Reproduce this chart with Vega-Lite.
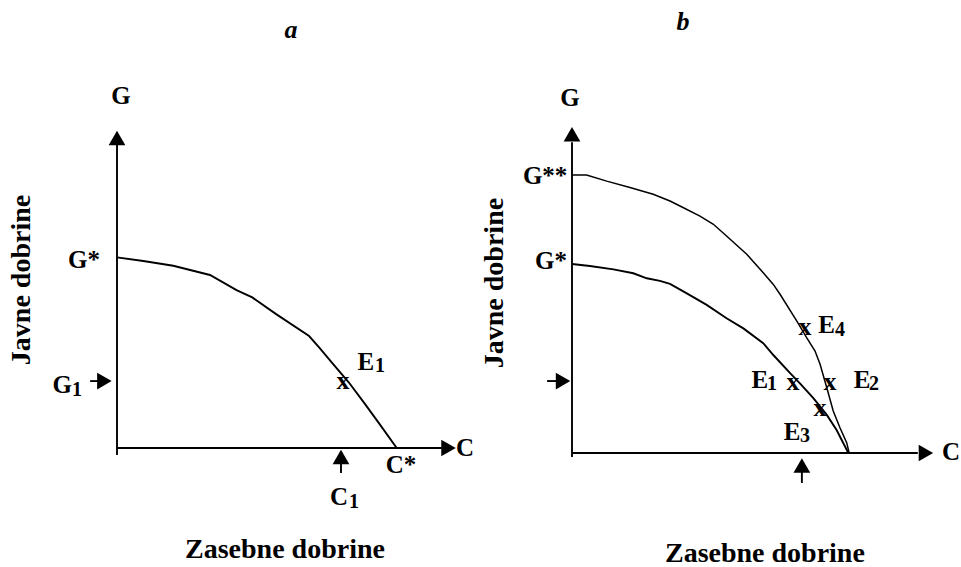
{
  "$schema": "https://vega.github.io/schema/vega-lite/v6.json",
  "padding": 0,
  "spacing": 0,
  "background": "white",
  "config": {"view": {"stroke": null}},
  "datasets": {
    "aLines": [
      {"id": "axisY", "o": 0, "x": 0, "y": -0.25},
      {"id": "axisY", "o": 1, "x": 0, "y": 11.0},
      {"id": "axisX", "o": 0, "x": 0, "y": 0},
      {"id": "axisX", "o": 1, "x": 11.6, "y": 0},
      {"id": "g1", "o": 0, "x": -0.96, "y": 2.39},
      {"id": "g1", "o": 1, "x": -0.45, "y": 2.39},
      {"id": "c1", "o": 0, "x": 8.0, "y": -0.89},
      {"id": "c1", "o": 1, "x": 8.0, "y": -0.32},
      {"id": "curve", "o": 0, "x": 0, "y": 6.81},
      {"id": "curve", "o": 1, "x": 0.94, "y": 6.68},
      {"id": "curve", "o": 2, "x": 2.01, "y": 6.51},
      {"id": "curve", "o": 3, "x": 3.32, "y": 6.18},
      {"id": "curve", "o": 4, "x": 4.27, "y": 5.64},
      {"id": "curve", "o": 5, "x": 4.83, "y": 5.38},
      {"id": "curve", "o": 6, "x": 5.67, "y": 4.79},
      {"id": "curve", "o": 7, "x": 6.86, "y": 4.0},
      {"id": "curve", "o": 8, "x": 7.21, "y": 3.6},
      {"id": "curve", "o": 9, "x": 7.69, "y": 3.03},
      {"id": "curve", "o": 10, "x": 8.29, "y": 2.33},
      {"id": "curve", "o": 11, "x": 8.88, "y": 1.54},
      {"id": "curve", "o": 12, "x": 9.36, "y": 0.88},
      {"id": "curve", "o": 13, "x": 9.99, "y": 0}
    ],
    "aHeads": [
      {"dir": "up", "x": 0, "y": 11.07},
      {"dir": "right", "x": 11.84, "y": 0},
      {"dir": "right", "x": -0.45, "y": 2.39},
      {"dir": "up", "x": 8.0, "y": -0.32}
    ],
    "aLabels": [
      {"t": "G", "x": 0.14, "y": 12.57},
      {"t": "G*", "x": -1.18, "y": 6.71},
      {"t": "G", "x": -1.96, "y": 2.25},
      {"t": "E", "x": 8.89, "y": 3.07},
      {"t": "C", "x": 12.43, "y": 0},
      {"t": "C*", "x": 10.14, "y": -0.61},
      {"t": "C", "x": 7.93, "y": -1.75}
    ],
    "aSubs": [
      {"t": "1", "x": -1.43, "y": 2.08},
      {"t": "1", "x": 9.39, "y": 2.93},
      {"t": "1", "x": 8.46, "y": -1.92}
    ],
    "aMarks": [
      {"t": "x", "x": 8.07, "y": 2.39}
    ],
    "aAxisTitles": [
      {"t": "Zasebne dobrine", "x": 6.0, "y": -3.66}
    ],
    "aVert": [
      {"t": "Javne dobrine", "x": -3.39, "y": 6.0}
    ],
    "aTitle": [
      {"t": "a", "x": 6.21, "y": 14.93}
    ],
    "bLines": [
      {"id": "axisY", "o": 0, "x": 0, "y": -0.14},
      {"id": "axisY", "o": 1, "x": 0, "y": 11.1},
      {"id": "axisX", "o": 0, "x": 0, "y": 0},
      {"id": "axisX", "o": 1, "x": 12.35, "y": 0},
      {"id": "left", "o": 0, "x": -0.89, "y": 2.57},
      {"id": "left", "o": 1, "x": -0.5, "y": 2.57},
      {"id": "bottom", "o": 0, "x": 8.21, "y": -1.07},
      {"id": "bottom", "o": 1, "x": 8.21, "y": -0.6},
      {"id": "lower", "o": 0, "x": 0, "y": 6.75},
      {"id": "lower", "o": 1, "x": 0.64, "y": 6.68},
      {"id": "lower", "o": 2, "x": 1.48, "y": 6.56},
      {"id": "lower", "o": 3, "x": 2.19, "y": 6.42},
      {"id": "lower", "o": 4, "x": 2.67, "y": 6.24},
      {"id": "lower", "o": 5, "x": 3.14, "y": 6.15},
      {"id": "lower", "o": 6, "x": 3.5, "y": 6.04},
      {"id": "lower", "o": 7, "x": 4.1, "y": 5.7},
      {"id": "lower", "o": 8, "x": 4.81, "y": 5.29},
      {"id": "lower", "o": 9, "x": 5.52, "y": 4.81},
      {"id": "lower", "o": 10, "x": 6.12, "y": 4.45},
      {"id": "lower", "o": 11, "x": 6.83, "y": 3.92},
      {"id": "lower", "o": 12, "x": 7.19, "y": 3.5},
      {"id": "lower", "o": 13, "x": 7.79, "y": 2.85},
      {"id": "lower", "o": 14, "x": 8.14, "y": 2.49},
      {"id": "lower", "o": 15, "x": 8.62, "y": 1.96},
      {"id": "lower", "o": 16, "x": 9.1, "y": 1.36},
      {"id": "lower", "o": 17, "x": 9.45, "y": 0.82},
      {"id": "lower", "o": 18, "x": 9.87, "y": 0}
    ],
    "bUpper": [
      {"id": "upper", "o": 0, "x": 0, "y": 9.93},
      {"id": "upper", "o": 1, "x": 0.52, "y": 9.93},
      {"id": "upper", "o": 2, "x": 1.24, "y": 9.71},
      {"id": "upper", "o": 3, "x": 2.07, "y": 9.48},
      {"id": "upper", "o": 4, "x": 2.9, "y": 9.24},
      {"id": "upper", "o": 5, "x": 3.5, "y": 9.0},
      {"id": "upper", "o": 6, "x": 3.98, "y": 8.76},
      {"id": "upper", "o": 7, "x": 4.57, "y": 8.46},
      {"id": "upper", "o": 8, "x": 5.05, "y": 8.17},
      {"id": "upper", "o": 9, "x": 5.52, "y": 7.75},
      {"id": "upper", "o": 10, "x": 6.24, "y": 7.1},
      {"id": "upper", "o": 11, "x": 6.83, "y": 6.44},
      {"id": "upper", "o": 12, "x": 7.19, "y": 6.02},
      {"id": "upper", "o": 13, "x": 7.43, "y": 5.67},
      {"id": "upper", "o": 14, "x": 8.03, "y": 4.71},
      {"id": "upper", "o": 15, "x": 8.38, "y": 4.12},
      {"id": "upper", "o": 16, "x": 8.68, "y": 3.64},
      {"id": "upper", "o": 17, "x": 8.86, "y": 3.17},
      {"id": "upper", "o": 18, "x": 9.1, "y": 2.33},
      {"id": "upper", "o": 19, "x": 9.33, "y": 1.5},
      {"id": "upper", "o": 20, "x": 9.57, "y": 0.9},
      {"id": "upper", "o": 21, "x": 9.81, "y": 0.37},
      {"id": "upper", "o": 22, "x": 9.9, "y": 0}
    ],
    "bHeads": [
      {"dir": "up", "x": 0, "y": 11.38},
      {"dir": "right", "x": 12.64, "y": 0},
      {"dir": "right", "x": -0.32, "y": 2.57},
      {"dir": "up", "x": 8.21, "y": -0.45}
    ],
    "bLabels": [
      {"t": "G", "x": -0.07, "y": 12.68},
      {"t": "G**", "x": -0.96, "y": 9.89},
      {"t": "G*", "x": -0.75, "y": 6.86},
      {"t": "E", "x": 9.09, "y": 4.57},
      {"t": "E", "x": 6.71, "y": 2.61},
      {"t": "E", "x": 10.36, "y": 2.61},
      {"t": "E", "x": 7.86, "y": 0.75},
      {"t": "C", "x": 13.54, "y": 0.04}
    ],
    "bSubs": [
      {"t": "4", "x": 9.57, "y": 4.4},
      {"t": "1", "x": 7.14, "y": 2.47},
      {"t": "2", "x": 10.79, "y": 2.47},
      {"t": "3", "x": 8.32, "y": 0.61}
    ],
    "bMarks": [
      {"t": "x", "x": 8.32, "y": 4.5},
      {"t": "x", "x": 7.89, "y": 2.54},
      {"t": "x", "x": 9.21, "y": 2.54},
      {"t": "x", "x": 8.86, "y": 1.61}
    ],
    "bAxisTitles": [
      {"t": "Zasebne dobrine", "x": 6.89, "y": -3.6}
    ],
    "bVert": [
      {"t": "Javne dobrine", "x": -2.75, "y": 6.07}
    ],
    "bTitle": [
      {"t": "b", "x": 3.96, "y": 15.39}
    ]
  },
  "hconcat": [
    {
      "width": 480,
      "height": 567,
      "encoding": {
        "x": {"field": "x", "type": "quantitative", "axis": null, "scale": {"domain": [-4.1786, 12.9643], "nice": false, "zero": false}},
        "y": {"field": "y", "type": "quantitative", "axis": null, "scale": {"domain": [-4.25, 16.0], "nice": false, "zero": false}}
      },
      "layer": [
        {
          "data": {"name": "aLines"},
          "mark": {"type": "line", "color": "black", "strokeWidth": 1.9, "clip": false},
          "encoding": {"detail": {"field": "id"}, "order": {"field": "o", "type": "quantitative"}}
        },
        {
          "data": {"name": "aHeads"},
          "mark": {"type": "point", "filled": true, "color": "black", "opacity": 1, "size": 280, "strokeWidth": 0},
          "encoding": {"shape": {"field": "dir", "type": "nominal", "legend": null, "scale": {"domain": ["up", "right"], "range": ["triangle-up", "triangle-right"]}}}
        },
        {
          "data": {"name": "aLabels"},
          "mark": {"type": "text", "font": "Liberation Serif", "fontWeight": "bold", "fontSize": 25, "color": "black", "align": "center", "baseline": "middle"},
          "encoding": {"text": {"field": "t"}}
        },
        {
          "data": {"name": "aSubs"},
          "mark": {"type": "text", "font": "Liberation Serif", "fontWeight": "bold", "fontSize": 20, "color": "black", "align": "center", "baseline": "middle"},
          "encoding": {"text": {"field": "t"}}
        },
        {
          "data": {"name": "aMarks"},
          "mark": {"type": "text", "font": "Liberation Serif", "fontWeight": "bold", "fontSize": 26, "color": "black", "align": "center", "baseline": "middle"},
          "encoding": {"text": {"field": "t"}}
        },
        {
          "data": {"name": "aAxisTitles"},
          "mark": {"type": "text", "font": "Liberation Serif", "fontWeight": "bold", "fontSize": 28, "color": "black", "align": "center", "baseline": "middle"},
          "encoding": {"text": {"field": "t"}}
        },
        {
          "data": {"name": "aVert"},
          "mark": {"type": "text", "font": "Liberation Serif", "fontWeight": "bold", "fontSize": 28, "color": "black", "align": "center", "baseline": "middle", "angle": 270},
          "encoding": {"text": {"field": "t"}}
        },
        {
          "data": {"name": "aTitle"},
          "mark": {"type": "text", "font": "Liberation Serif", "fontWeight": "bold", "fontStyle": "italic", "fontSize": 26, "color": "black", "align": "center", "baseline": "middle"},
          "encoding": {"text": {"field": "t"}}
        }
      ]
    },
    {
      "width": 481,
      "height": 567,
      "encoding": {
        "x": {"field": "x", "type": "quantitative", "axis": null, "scale": {"domain": [-3.2857, 13.8929], "nice": false, "zero": false}},
        "y": {"field": "y", "type": "quantitative", "axis": null, "scale": {"domain": [-4.0714, 16.1786], "nice": false, "zero": false}}
      },
      "layer": [
        {
          "data": {"name": "bLines"},
          "mark": {"type": "line", "color": "black", "strokeWidth": 1.9, "clip": false},
          "encoding": {"detail": {"field": "id"}, "order": {"field": "o", "type": "quantitative"}}
        },
        {
          "data": {"name": "bUpper"},
          "mark": {"type": "line", "color": "black", "strokeWidth": 1.5, "clip": false},
          "encoding": {"detail": {"field": "id"}, "order": {"field": "o", "type": "quantitative"}}
        },
        {
          "data": {"name": "bHeads"},
          "mark": {"type": "point", "filled": true, "color": "black", "opacity": 1, "size": 280, "strokeWidth": 0},
          "encoding": {"shape": {"field": "dir", "type": "nominal", "legend": null, "scale": {"domain": ["up", "right"], "range": ["triangle-up", "triangle-right"]}}}
        },
        {
          "data": {"name": "bLabels"},
          "mark": {"type": "text", "font": "Liberation Serif", "fontWeight": "bold", "fontSize": 25, "color": "black", "align": "center", "baseline": "middle"},
          "encoding": {"text": {"field": "t"}}
        },
        {
          "data": {"name": "bSubs"},
          "mark": {"type": "text", "font": "Liberation Serif", "fontWeight": "bold", "fontSize": 20, "color": "black", "align": "center", "baseline": "middle"},
          "encoding": {"text": {"field": "t"}}
        },
        {
          "data": {"name": "bMarks"},
          "mark": {"type": "text", "font": "Liberation Serif", "fontWeight": "bold", "fontSize": 26, "color": "black", "align": "center", "baseline": "middle"},
          "encoding": {"text": {"field": "t"}}
        },
        {
          "data": {"name": "bAxisTitles"},
          "mark": {"type": "text", "font": "Liberation Serif", "fontWeight": "bold", "fontSize": 28, "color": "black", "align": "center", "baseline": "middle"},
          "encoding": {"text": {"field": "t"}}
        },
        {
          "data": {"name": "bVert"},
          "mark": {"type": "text", "font": "Liberation Serif", "fontWeight": "bold", "fontSize": 28, "color": "black", "align": "center", "baseline": "middle", "angle": 270},
          "encoding": {"text": {"field": "t"}}
        },
        {
          "data": {"name": "bTitle"},
          "mark": {"type": "text", "font": "Liberation Serif", "fontWeight": "bold", "fontStyle": "italic", "fontSize": 26, "color": "black", "align": "center", "baseline": "middle"},
          "encoding": {"text": {"field": "t"}}
        }
      ]
    }
  ]
}
